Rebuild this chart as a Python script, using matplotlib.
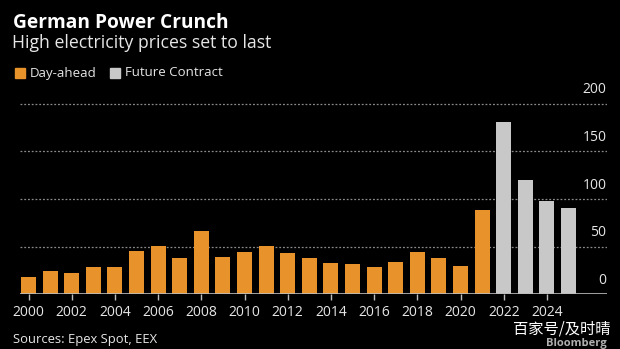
import matplotlib
matplotlib.use("Agg")
import matplotlib.pyplot as plt
from matplotlib.patches import Rectangle

# German power prices (EUR/MWh): day-ahead yearly averages and futures
day_ahead_years = list(range(2000, 2022))
day_ahead_values = [18.6, 23.9, 22.8, 28.8, 28.8, 45.9, 50.8, 37.9, 66.6, 39.0,
                    44.2, 50.8, 43.2, 37.9, 33.0, 32.0, 28.8, 34.0, 44.2, 37.9,
                    29.9, 88.3]
future_years = [2022, 2023, 2024, 2025]
future_values = [180.5, 119.7, 97.3, 90.4]
y_ticks = [0, 50, 100, 150, 200]
x_ticks = list(range(2000, 2025, 2))

ORANGE = "#E8922B"
GRAY = "#C8C8C8"
TEXT = "#E6E6E6"
BG = "#000000"

plt.rcParams["font.family"] = ["Open Sans", "DejaVu Sans"]

W, H = 620, 349
fig = plt.figure(figsize=(W / 100, H / 100), dpi=100, facecolor=BG)

# plot area in pixels
left_px, right_px = 20, 607
base_px = 294.3
px_per_unit = 0.954
ymax = 220
ax = fig.add_axes([left_px / W, (H - base_px) / H,
                   (right_px - left_px) / W, ymax * px_per_unit / H])
ax.set_facecolor(BG)

px_per_year = 21.6
x0_px = 28.5
ax.set_xlim(2000 - (x0_px - left_px) / px_per_year,
            2000 + (right_px - x0_px) / px_per_year)
ax.set_ylim(0, ymax)

# gridlines and value labels
for v in y_ticks:
    if v == 0:
        ax.axhline(0, color="#BDBDBD", lw=1.2, zorder=3)
    else:
        ax.axhline(v, color="#8A8A8A", lw=0.9, ls=(0, (1.5, 1.5)), zorder=1)
    ax.annotate(str(v), xy=(1.0, v), xycoords=("axes fraction", "data"),
                xytext=(-0.5, 10), textcoords="offset points",
                ha="right", va="center", color=TEXT, fontsize=10)

bar_w = 0.70
ax.bar(day_ahead_years, day_ahead_values, width=bar_w, color=ORANGE, zorder=2)
ax.bar(future_years, future_values, width=bar_w, color=GRAY, zorder=2)

for s in ax.spines.values():
    s.set_visible(False)
ax.set_yticks([])
ax.set_xticks(x_ticks)
ax.set_xticklabels([str(y) for y in x_ticks])
ax.tick_params(axis="x", colors="#BDBDBD", length=4, width=1, pad=3.5,
               labelsize=10, labelcolor=TEXT)

# title block
fig.text(13 / W, 1 - 22.5 / H, "German Power Crunch", color="#FFFFFF",
         fontsize=13.8, fontweight="bold", ha="left", va="center")
fig.text(12 / W, 1 - 43.5 / H, "High electricity prices set to last",
         color=TEXT, fontsize=12.7, ha="left", va="center")

# legend
legend_items = [("Day-ahead", ORANGE, 15), ("Future Contract", GRAY, 110)]
for label, color, x in legend_items:
    fig.patches.append(Rectangle((x / W, 1 - 78 / H), 10 / W, 10 / H,
                                 transform=fig.transFigure, color=color))
    fig.text((x + 15) / W, 1 - 73 / H, label, color=TEXT, fontsize=9.5,
             ha="left", va="center")

# footer
fig.text(13 / W, 1 - 339 / H, "Sources: Epex Spot, EEX", color=TEXT,
         fontsize=9.4, ha="left", va="center")
fig.text(610 / W, 1 - 328.5 / H, "百家号/及时晴", color="#FFFFFF",
         fontsize=11, ha="right", va="center",
         family=["Noto Sans CJK SC", "DejaVu Sans"])
fig.text(607 / W, 1 - 343.5 / H, "Bloomberg", color="#B0B0B0",
         fontsize=8, fontweight="bold", ha="right", va="center")

fig.savefig("out.png", dpi=100, facecolor=BG)
